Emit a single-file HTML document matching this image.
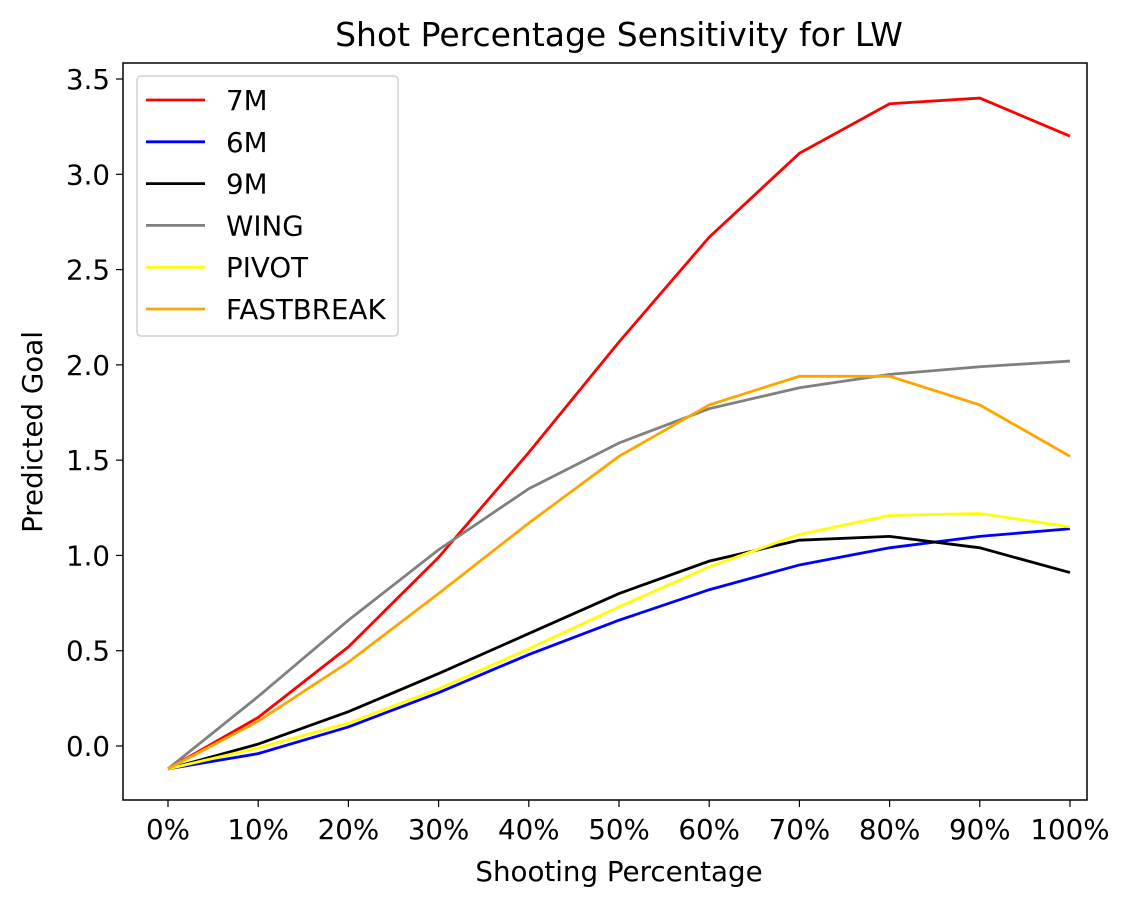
<!DOCTYPE html>
<html><head><meta charset="utf-8"><style>
body{margin:0;background:#fff;}
svg text{font-family:"DejaVu Sans","Liberation Sans",sans-serif;fill:#000;}
</style></head><body>
<svg id="chart" width="1134" height="908" xmlns="http://www.w3.org/2000/svg">
<rect width="1134" height="908" fill="#fff"/>
<text x="619" y="46" font-size="33" text-anchor="middle">Shot Percentage Sensitivity for LW</text>
<g id="marks"></g>
<rect x="123" y="63" width="964" height="737" fill="none" stroke="#000" stroke-width="1.5"/>
<g id="axes"></g>
<text x="619" y="881" font-size="27.7" text-anchor="middle">Shooting Percentage</text>
<text transform="translate(42,432) rotate(-90)" font-size="27.7" text-anchor="middle">Predicted Goal</text>
<g id="legend"></g>
</svg>
<script>
const categories=["0%","10%","20%","30%","40%","50%","60%","70%","80%","90%","100%"];
const yTicks=[0.0,0.5,1.0,1.5,2.0,2.5,3.0,3.5];
const seriesNames=["7M","6M","9M","WING","PIVOT","FASTBREAK"];
const seriesColors=["#ff0000","#0000ff","#000000","#808080","#ffff00","#ffa500"];
const s7M=[-0.12,0.15,0.52,0.99,1.54,2.12,2.67,3.11,3.37,3.40,3.20];
const s6M=[-0.12,-0.04,0.10,0.28,0.48,0.66,0.82,0.95,1.04,1.10,1.14];
const s9M=[-0.12,0.01,0.18,0.38,0.59,0.80,0.97,1.08,1.10,1.04,0.91];
const sWING=[-0.12,0.26,0.66,1.03,1.35,1.59,1.77,1.88,1.95,1.99,2.02];
const sPIVOT=[-0.12,-0.01,0.12,0.30,0.51,0.73,0.94,1.11,1.21,1.22,1.15];
const sFAST=[-0.12,0.13,0.44,0.80,1.17,1.52,1.79,1.94,1.94,1.79,1.52];
const allSeries=[s7M,s6M,s9M,sWING,sPIVOT,sFAST];
const NS="http://www.w3.org/2000/svg";
function xPos(i){return 168+i*(1070-168)/(categories.length-1);}
function yPos(v){return 746-v*(746-79)/3.5;}
function mk(t,a,p){const e=document.createElementNS(NS,t);for(const k in a)e.setAttribute(k,a[k]);p.appendChild(e);return e;}
const axes=document.getElementById('axes');
categories.forEach((c,i)=>{
  const tk=mk('line',{x1:xPos(i),x2:xPos(i),y1:800,y2:807,stroke:'#000','stroke-width':1.2},axes);
  
  
  const t=mk('text',{x:xPos(i),y:839,'font-size':27.7,'text-anchor':'middle'},axes);t.textContent=c;
  
  
});
yTicks.forEach(v=>{
  const tk=mk('line',{x1:116,x2:123,y1:yPos(v),y2:yPos(v),stroke:'#000','stroke-width':1.2},axes);
  
  
  const t=mk('text',{x:110,y:yPos(v)+10,'font-size':27.7,'text-anchor':'end'},axes);t.textContent=v.toFixed(1);
  
  
});
const marks=document.getElementById('marks');
allSeries.forEach((s,k)=>{
  const pts=s.map((v,i)=>xPos(i)+','+yPos(v)).join(' ');
  const l=mk('polyline',{points:pts,fill:'none',stroke:seriesColors[k],'stroke-width':2.8},marks);
  
  
});
const lg=document.getElementById('legend');
const box=mk('rect',{x:137,y:76,width:261,height:260,rx:4,fill:'#fff',stroke:'#d0d0d0','stroke-width':1.5},lg);


seriesNames.forEach((n,k)=>{
  const y=100+k*41.8;
  const g=mk('g',{},lg);
  
  
  mk('line',{x1:146,x2:205,y1:y,y2:y,stroke:seriesColors[k],'stroke-width':2.8},g);
  const t=mk('text',{x:226,y:y+10,'font-size':27.7},g);t.textContent=n;
});
</script>
</body></html>
